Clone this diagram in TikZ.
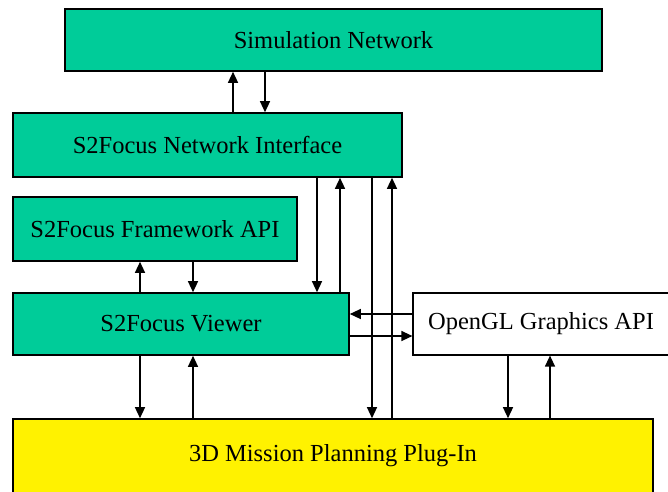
\documentclass[tikz,border=0pt]{standalone}
\usepackage{fontspec}
\setmainfont{Liberation Serif}
\usetikzlibrary{arrows.meta}
\definecolor{boxgreen}{RGB}{0,204,153}
\begin{document}
\begin{tikzpicture}[x=1pt,y=-1pt,
  block/.style={draw,line width=1.6pt,fill=boxgreen,inner sep=0pt,
    font=\fontsize{24.5}{28}\selectfont},
  link/.style={line width=1.3pt,-{Triangle[length=11pt,width=10pt]}}]
\clip (0,0) rectangle (668,491);
\node[block,minimum width=537pt,minimum height=62pt] (sim) at (333.5,40) {Simulation Network};
\node[block,minimum width=389pt,minimum height=64pt] (ni) at (207.5,145) {S2Focus Network Interface};
\node[block,minimum width=284pt,minimum height=64pt] (fw) at (155,229) {S2Focus Framework API};
\node[block,minimum width=336pt,minimum height=62pt] (view) at (181,324) {S2Focus Viewer};
\node[block,fill=white,line width=1.2pt,minimum width=256pt,minimum height=62pt] (ogl) at (541,324) {OpenGL Graphics API};
\node[block,fill=yellow,minimum width=640pt,minimum height=74pt] (mission) at (333,456) {3D Mission Planning Plug-In};
% positions of the connectors
\foreach \x in {140,193,233,265,317,340,372,392,508,550}
  \coordinate (x\x) at (\x,0);
\foreach \y in {314,336}
  \coordinate (y\y) at (0,\y);
\draw[link] (ni.north -| x233) -- (sim.south -| x233);
\draw[link] (sim.south -| x265) -- (ni.north -| x265);
\draw[link] (view.north -| x140) -- (fw.south -| x140);
\draw[link] (fw.south -| x193) -- (view.north -| x193);
\draw[link] (ni.south -| x317) -- (view.north -| x317);
\draw[link] (view.north -| x340) -- (ni.south -| x340);
\draw[link] (ni.south -| x372) -- (mission.north -| x372);
\draw[link] (mission.north -| x392) -- (ni.south -| x392);
\draw[link] (ogl.west |- y314) -- (view.east |- y314);
\draw[link] (view.east |- y336) -- (ogl.west |- y336);
\draw[link] (view.south -| x140) -- (mission.north -| x140);
\draw[link] (mission.north -| x193) -- (view.south -| x193);
\draw[link] (ogl.south -| x508) -- (mission.north -| x508);
\draw[link] (mission.north -| x550) -- (ogl.south -| x550);
\end{tikzpicture}
\end{document}
